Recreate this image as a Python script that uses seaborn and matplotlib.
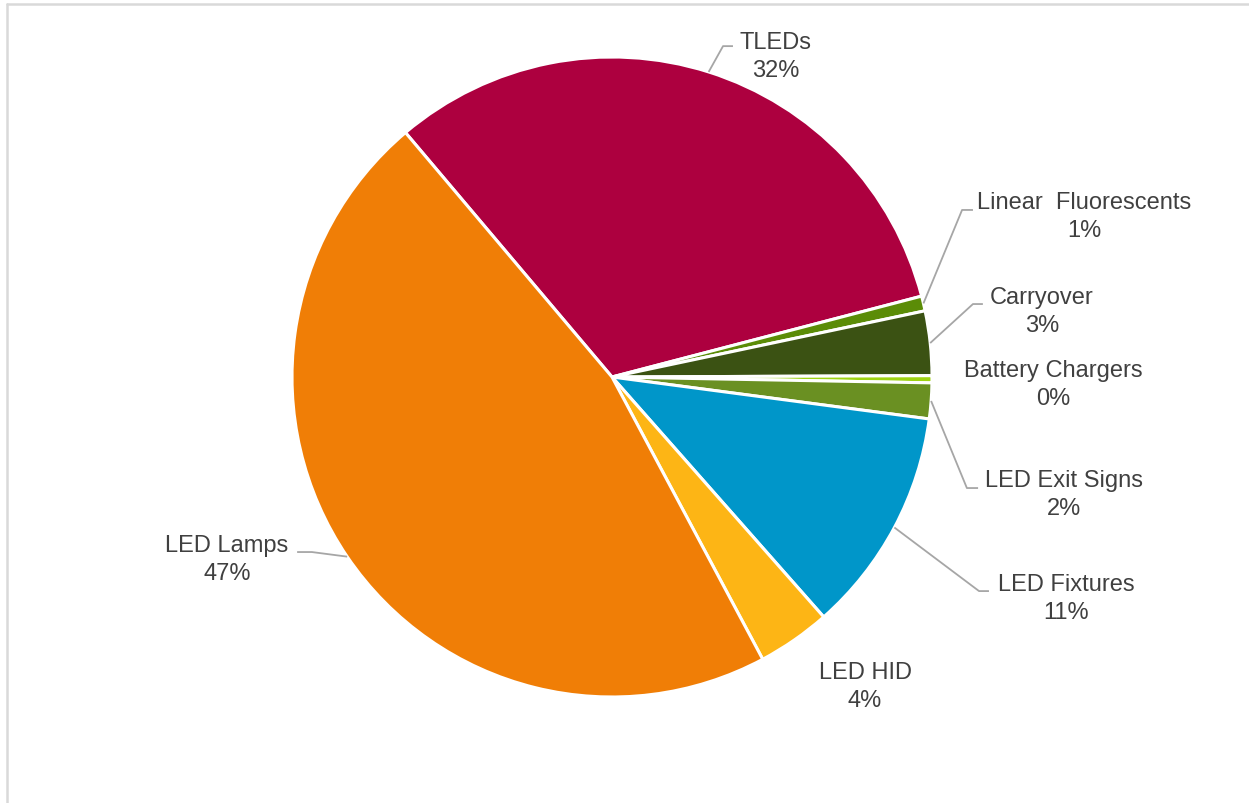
import numpy as np
import matplotlib
matplotlib.use("Agg")
import matplotlib.pyplot as plt
from matplotlib.lines import Line2D
import seaborn as sns

# ---- data ----
categories = ["TLEDs", "Linear  Fluorescents", "Carryover", "Battery Chargers",
              "LED Exit Signs", "LED Fixtures", "LED HID", "LED Lamps"]
shares = [32.1, 0.75, 3.25, 0.36, 1.8, 11.4, 3.7, 46.64]
colors = ["#AD003F", "#5B8C07", "#3B5213", "#9ED312",
          "#6A9022", "#0096C9", "#FDB515", "#F07E06"]

# label layout (text centre, leader elbow, leader end) in pie units
label_pos = [(0.5125, 1.003), (1.475, 0.503), (1.344, 0.206), (1.378, -0.022),
             (1.4125, -0.366), (1.419, -0.691), (0.791, -0.966), (-1.203, -0.569)]
elbows = [((0.347, 1.034), (0.378, 1.034)),
          ((1.094, 0.522), (1.128, 0.522)),
          ((1.128, 0.228), (1.159, 0.228)),
          None,
          ((1.109, -0.347), (1.144, -0.347)),
          ((1.147, -0.669), (1.178, -0.669)),
          None,
          ((-0.938, -0.547), (-0.984, -0.547))]

sns.set_theme(style="white")
plt.rcParams["font.family"] = ["Liberation Sans", "DejaVu Sans"]

fig = plt.figure(figsize=(12.49, 8.04), dpi=100)
ax = fig.add_axes([0, 0, 1, 1])

wedges, _ = ax.pie(shares, colors=colors, startangle=130.2, counterclock=False,
                   radius=1.0, center=(0, 0),
                   wedgeprops=dict(edgecolor="white", linewidth=2.2))

for w, cat, val, pos, el in zip(wedges, categories, shares, label_pos, elbows):
    ax.text(pos[0], pos[1], f"{cat}\n{round(val)}%", ha="center", va="center",
            multialignment="center", fontsize=17, color="#404040", linespacing=1.38)
    if el is not None:
        mid = np.deg2rad((w.theta1 + w.theta2) / 2)
        xs = [np.cos(mid), el[0][0], el[1][0]]
        ys = [np.sin(mid), el[0][1], el[1][1]]
        ax.plot(xs, ys, color="#A6A6A6", lw=1.3, solid_capstyle="butt")

ax.set_xlim(-612 / 320, 637 / 320)
ax.set_ylim(-426 / 320, 378 / 320)
ax.set_aspect("equal", adjustable="box")
ax.axis("off")

# chart-area border (top and left visible)
fig.add_artist(Line2D([6.5 / 1249, 1], [1 - 4.5 / 804, 1 - 4.5 / 804],
                      transform=fig.transFigure, color="#D9D9D9", lw=1.8))
fig.add_artist(Line2D([6.5 / 1249, 6.5 / 1249], [0, 1 - 4.5 / 804],
                      transform=fig.transFigure, color="#D9D9D9", lw=1.8))

fig.savefig("out.png", dpi=100, facecolor="white")
